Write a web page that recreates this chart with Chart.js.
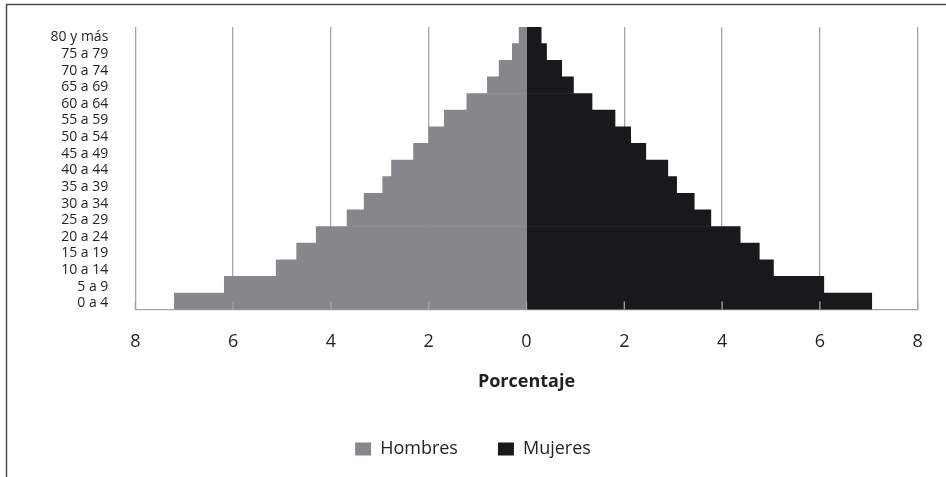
<!DOCTYPE html>
<html lang="es">
<head>
<meta charset="utf-8">
<title>Pirámide de población</title>
<script src="https://cdn.jsdelivr.net/npm/chart.js@4.4.1/dist/chart.umd.min.js"></script>
<style>
  html, body { margin: 0; padding: 0; background: #ffffff; }
  #wrap { position: relative; width: 946px; height: 477px; }
  canvas { display: block; }
</style>
</head>
<body>
<div id="wrap"><canvas id="piramide" width="946" height="477"></canvas></div>
<script>
// Grupos de edad, de menor a mayor
const gruposEdad = ['0 a 4', '5 a 9', '10 a 14', '15 a 19', '20 a 24', '25 a 29', '30 a 34',
  '35 a 39', '40 a 44', '45 a 49', '50 a 54', '55 a 59', '60 a 64', '65 a 69', '70 a 74',
  '75 a 79', '80 y más'];

// Porcentaje de la población total en cada grupo
const hombres = [7.20, 6.18, 5.12, 4.70, 4.30, 3.67, 3.32, 2.94, 2.76, 2.31, 2.00, 1.68, 1.22, 0.80, 0.56, 0.29, 0.15];
const mujeres = [7.06, 6.08, 5.05, 4.76, 4.37, 3.77, 3.43, 3.07, 2.89, 2.44, 2.13, 1.81, 1.34, 0.96, 0.72, 0.41, 0.30];

// Marcas del eje horizontal (los hombres se dibujan a la izquierda del cero)
const marcasX = [-8, -6, -4, -2, 0, 2, 4, 6, 8];

const FUENTE = "'Open Sans', 'DejaVu Sans', sans-serif";
const TEXTO = '#231f20';
const REJILLA = '#a3a5a8';

// Marco de la figura: línea superior y línea izquierda
const marco = {
  id: 'marco',
  beforeDraw(chart) {
    const ctx = chart.ctx;
    ctx.save();
    ctx.strokeStyle = '#4d4d4f';
    ctx.lineWidth = 1.5;
    ctx.beginPath();
    ctx.moveTo(6.5, 477);
    ctx.lineTo(6.5, 4.5);
    ctx.lineTo(946, 4.5);
    ctx.stroke();
    ctx.restore();
  }
};

// Pequeñas marcas hacia adentro sobre el eje inferior
const marcasInternas = {
  id: 'marcasInternas',
  afterDatasetsDraw(chart) {
    const ctx = chart.ctx;
    const x = chart.scales.x;
    const base = chart.chartArea.bottom;
    ctx.save();
    ctx.strokeStyle = REJILLA;
    ctx.lineWidth = 1.3;
    marcasX.forEach(v => {
      const px = x.getPixelForValue(v);
      ctx.beginPath();
      ctx.moveTo(px, base - 8);
      ctx.lineTo(px, base);
      ctx.stroke();
    });
    ctx.restore();
  }
};

new Chart(document.getElementById('piramide'), {
  type: 'bar',
  data: {
    labels: gruposEdad,
    datasets: [
      {
        label: 'Hombres',
        data: hombres.map(v => -v),
        backgroundColor: '#86878b',
        borderWidth: 0,
        barPercentage: 1,
        categoryPercentage: 1
      },
      {
        label: 'Mujeres',
        data: mujeres,
        backgroundColor: '#18191b',
        borderWidth: 0,
        barPercentage: 1,
        categoryPercentage: 1
      }
    ]
  },
  options: {
    indexAxis: 'y',
    responsive: false,
    animation: false,
    devicePixelRatio: 1,
    layout: { padding: { top: 27, left: 0, right: 0, bottom: 9 } },
    scales: {
      x: {
        type: 'linear',
        stacked: true,
        min: -8,
        max: 8,
        afterBuildTicks(scale) {
          scale.ticks = marcasX.map(v => ({ value: v }));
        },
        afterFit(scale) { scale.height = 90.4; },
        grid: { display: true, color: REJILLA, lineWidth: 1.3, drawTicks: false },
        border: { display: true, color: REJILLA, width: 1.3 },
        ticks: {
          padding: 21.5,
          color: TEXTO,
          font: { family: FUENTE, size: 18 },
          callback: v => Math.abs(v)
        },
        title: {
          display: true,
          text: 'Porcentaje',
          color: TEXTO,
          font: { family: FUENTE, size: 18, weight: 'bold' },
          padding: { top: 0, bottom: 7 }
        }
      },
      y: {
        type: 'category',
        stacked: true,
        reverse: true,
        afterFit(scale) {
          scale.width = 135.3;
          scale.paddingTop = 0;
          scale.paddingBottom = 0;
        },
        grid: { display: false, drawTicks: false },
        border: { display: false },
        ticks: {
          padding: 27,
          labelOffset: 2,
          autoSkip: false,
          color: TEXTO,
          font: { family: FUENTE, size: 14 }
        }
      },
      derecha: {
        type: 'linear',
        position: 'right',
        afterFit(scale) { scale.width = 28.3; },
        grid: { display: false, drawTicks: false },
        border: { display: false },
        ticks: { display: false }
      }
    },
    plugins: {
      legend: {
        position: 'bottom',
        labels: {
          boxWidth: 16,
          boxHeight: 13,
          padding: 40,
          color: TEXTO,
          font: { family: FUENTE, size: 18 }
        }
      },
      tooltip: { enabled: false }
    }
  },
  plugins: [marco, marcasInternas]
});
</script>
</body>
</html>
